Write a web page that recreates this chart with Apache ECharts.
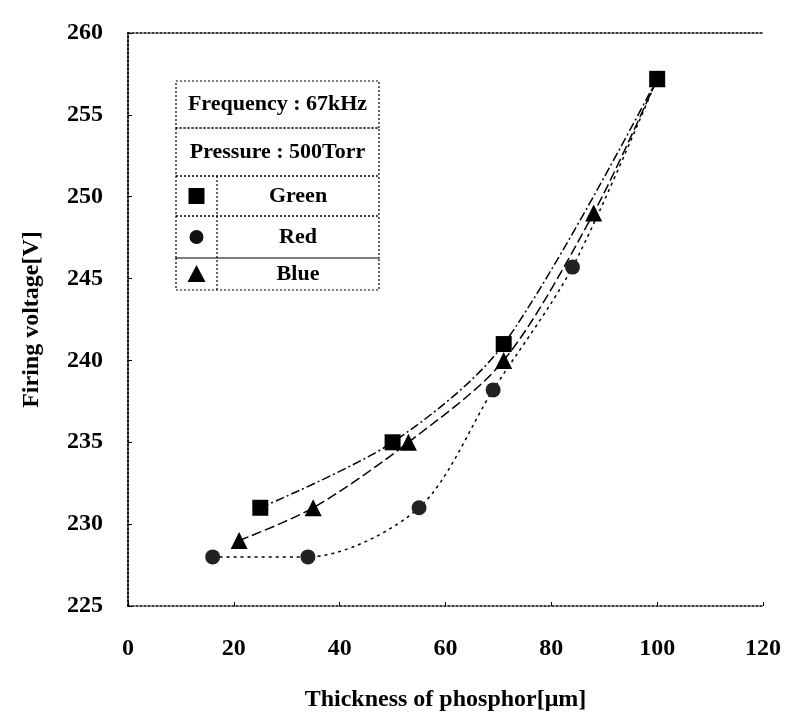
<!DOCTYPE html>
<html>
<head>
<meta charset="utf-8">
<script src="https://cdn.jsdelivr.net/npm/echarts@6/dist/echarts.min.js"></script>
<style>
    html, body { margin: 0; padding: 0; background: #fff; }
    #chart { width: 791px; height: 717px; }
</style>
</head>
<body>
<div id="chart"></div>
<script>
    // 绿色荧光粉
    var greenData = [[25, 231], [50, 235], [71, 241], [100, 257.2]];
    // 红色荧光粉
    var redData = [[16, 228], [34, 228], [55, 231], [69, 238.2], [84, 245.7], [100, 257.2]];
    // 蓝色荧光粉
    var blueData = [[21, 229], [35, 231], [53, 235], [71, 240], [88, 249], [100, 257.2]];
    var xTicks = [0, 20, 40, 60, 80, 100, 120];
    var yTicks = [225, 230, 235, 240, 245, 250, 255, 260];

    var chart = echarts.init(document.getElementById("chart"));
    var font = "Liberation Serif";
    var dotted = { color: '#000', width: 1.5, type: [2, 2] };

    // 图例表格
    var tbl = { l: 176, r: 379, rows: [81, 128, 176, 216, 258, 290], mid: 217 };
    var legendGraphics = [];
    for (var i = 0; i < 5; i++) {
        legendGraphics.push({
            type: 'rect',
            shape: { x: tbl.l, y: tbl.rows[i], width: tbl.r - tbl.l, height: tbl.rows[i + 1] - tbl.rows[i] },
            style: { fill: null, stroke: '#000', lineWidth: 1.2, lineDash: [2, 2] }
        });
    }
    legendGraphics.push({
        type: 'line',
        shape: { x1: tbl.mid, y1: tbl.rows[2], x2: tbl.mid, y2: tbl.rows[5] },
        style: { stroke: '#000', lineWidth: 1.2, lineDash: [2, 2] }
    });
    var rowText = ['Frequency : 67kHz', 'Pressure : 500Torr'];
    rowText.forEach(function(t, i) {
        legendGraphics.push({
            type: 'text',
            x: (tbl.l + tbl.r) / 2,
            y: (tbl.rows[i] + tbl.rows[i + 1]) / 2,
            style: { text: t, font: 'bold 22px "' + font + '"', fill: '#000', align: 'center', verticalAlign: 'middle' }
        });
    });
    var names = ['Green', 'Red', 'Blue'];
    names.forEach(function(t, i) {
        var cy = (tbl.rows[i + 2] + tbl.rows[i + 3]) / 2;
        legendGraphics.push({
            type: 'text',
            x: (tbl.mid + tbl.r) / 2,
            y: cy,
            style: { text: t, font: 'bold 22px "' + font + '"', fill: '#000', align: 'center', verticalAlign: 'middle' }
        });
        var cx = (tbl.l + tbl.mid) / 2;
        if (i === 0) {
            legendGraphics.push({ type: 'rect', shape: { x: cx - 8, y: cy - 8, width: 16, height: 16 }, style: { fill: '#000' } });
        } else if (i === 1) {
            legendGraphics.push({ type: 'circle', shape: { cx: cx, cy: cy, r: 7 }, style: { fill: '#111' } });
        } else {
            legendGraphics.push({ type: 'polygon', shape: { points: [[cx, cy - 9], [cx - 9, cy + 8], [cx + 9, cy + 8]] }, style: { fill: '#000' } });
        }
    });

    var option = {
        backgroundColor: '#fff',
        animation: false,
        grid: { left: 128, right: 28, top: 33, bottom: 104 },
        xAxis: [{
            type: 'value',
            min: xTicks[0],
            max: xTicks[xTicks.length - 1],
            interval: 20,
            name: 'Thickness of phosphor[μm]',
            nameLocation: 'middle',
            nameGap: 82,
            nameTextStyle: { fontFamily: font, fontWeight: 'bold', fontSize: 24, color: '#000' },
            axisLine: { lineStyle: dotted },
            axisTick: { inside: true, length: 4, lineStyle: { color: '#000' } },
            axisLabel: { margin: 31, fontFamily: font, fontWeight: 'bold', fontSize: 24, color: '#000' },
            splitLine: { show: false }
        }, {
            type: 'value',
            position: 'top',
            min: xTicks[0],
            max: xTicks[xTicks.length - 1],
            interval: 20,
            axisLine: { lineStyle: dotted },
            axisTick: { show: false },
            axisLabel: { show: false },
            splitLine: { show: false }
        }],
        yAxis: [{
            type: 'value',
            min: yTicks[0],
            max: yTicks[yTicks.length - 1],
            interval: 5,
            name: 'Firing voltage[V]',
            nameLocation: 'middle',
            nameGap: 84,
            nameTextStyle: { fontFamily: font, fontWeight: 'bold', fontSize: 24, color: '#000' },
            axisLine: { show: true, lineStyle: dotted },
            axisTick: { inside: true, length: 4, lineStyle: { color: '#000' } },
            axisLabel: { margin: 25, fontFamily: font, fontWeight: 'bold', fontSize: 24, color: '#000' },
            splitLine: { show: false }
        }, {
            type: 'value',
            position: 'right',
            min: yTicks[0],
            max: yTicks[yTicks.length - 1],
            interval: 5,
            axisLine: { show: true, lineStyle: dotted },
            axisTick: { show: false },
            axisLabel: { show: false },
            splitLine: { show: false }
        }],
        series: [{
            name: 'Green',
            type: 'line',
            data: greenData,
            smooth: 0.3,
            symbol: 'rect',
            symbolSize: 16,
            itemStyle: { color: '#000' },
            lineStyle: { color: '#000', width: 1.5, type: [9, 3, 2, 3] },
            z: 4
        }, {
            name: 'Red',
            type: 'line',
            data: redData,
            smooth: 0.3,
            symbol: 'circle',
            symbolSize: 15,
            itemStyle: { color: '#222' },
            lineStyle: { color: '#000', width: 1.5, type: [3, 4] },
            z: 3
        }, {
            name: 'Blue',
            type: 'line',
            data: blueData,
            smooth: 0.3,
            symbol: 'triangle',
            symbolSize: 17,
            itemStyle: { color: '#000' },
            lineStyle: { color: '#000', width: 1.5, type: [10, 4] },
            z: 3
        }],
        graphic: legendGraphics
    };

    chart.setOption(option);
    window.addEventListener("resize", function() {
        chart.resize();
    });
</script>
</body>
</html>
